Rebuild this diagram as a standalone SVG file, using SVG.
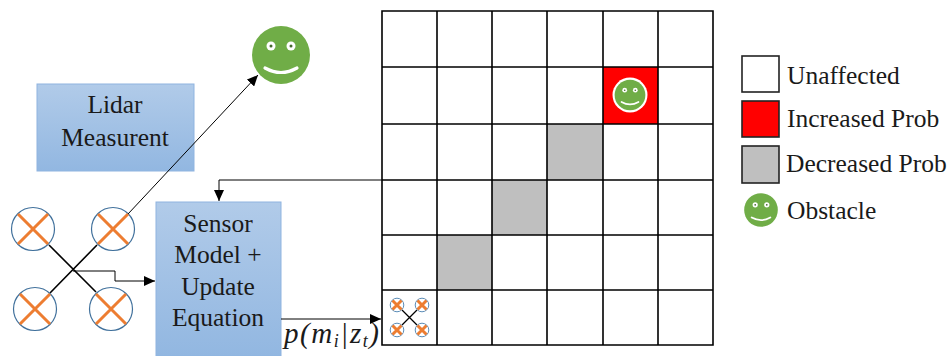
<svg xmlns="http://www.w3.org/2000/svg" xmlns:xlink="http://www.w3.org/1999/xlink" width="949" height="356" viewBox="0 0 949 356">
<style>
text{font-family:"Liberation Serif","Times New Roman",serif;fill:#1a1a1a;font-size:25.500px}
.c{text-anchor:middle}
.cell{fill:none;stroke:#000;stroke-width:1.6}
.box{fill:url(#blue);stroke:#8fb4e0;stroke-width:1}
.rotor{fill:#fff;stroke:#41719c;stroke-width:1.200}
.blade{stroke:#ed7d31;stroke-width:3}
.arm{stroke:#000;stroke-width:1.600}
.conn{fill:none;stroke:#000;stroke-width:1}
.leg{stroke:#222;stroke-width:1.600}
text.math{font-style:italic;font-size:29px}
.sub{font-size:18px}
</style>
<defs>
<linearGradient id="blue" x1="0" y1="0" x2="0" y2="1"><stop offset="0" stop-color="#b1cbe9"/><stop offset="1" stop-color="#92b7e1"/></linearGradient>
<marker id="arr" markerWidth="12" markerHeight="10" refX="11" refY="5" orient="auto" markerUnits="userSpaceOnUse"><path d="M0 0L11 5L0 10Z" fill="#000"/></marker>
<g id="smile"><circle r="29" fill="#70ad47"/><circle cx="-10" cy="-9" r="4.500" fill="#fff"/><circle cx="10" cy="-9" r="4.500" fill="#fff"/><circle cx="-10" cy="-9" r="1.500" fill="#44692d"/><circle cx="10" cy="-9" r="1.500" fill="#44692d"/><path d="M-16 13Q0 22 16 13" fill="none" stroke="#fff" stroke-width="3.200" stroke-linecap="round"/></g>
</defs>
<rect width="949" height="356" fill="#fff"/>
<g id="grid-node">
<rect x="437" y="235" width="55" height="55" fill="#bfbfbf"/>
<rect x="492" y="180" width="55" height="55" fill="#bfbfbf"/>
<rect x="547" y="124" width="56" height="56" fill="#bfbfbf"/>
<rect x="603" y="67" width="55" height="57" fill="#f00"/>
<path class="cell" d="M382 11H713V345H382ZM382 67H713M382 124H713M382 180H713M382 235H713M382 290H713M437 11V345M492 11V345M547 11V345M603 11V345M658 11V345"/>
</g>
<g id="obstacle-grid"><circle cx="630" cy="95" r="17.500" fill="#fff"/><use xlink:href="#smile" transform="translate(630 95) scale(.53)"/></g>
<g id="obstacle-top"><use xlink:href="#smile" transform="translate(281 55)"/></g>
<g id="lidar"><rect class="box" x="37" y="84" width="157" height="87"/><text class="c" x="115" y="113">Lidar</text><text class="c" x="115" y="146">Measurent</text></g>
<g id="sensor"><rect class="box" x="156" y="202" width="125" height="154"/><text class="c" x="218" y="232">Sensor</text><text class="c" x="218" y="263">Model +</text><text class="c" x="218" y="295">Update</text><text class="c" x="218" y="326">Equation</text></g>
<g id="drone-large">
<path class="arm" d="M49 245L96 292M97 245L50 293"/>
<circle class="rotor" cx="33" cy="229" r="21.500"/><path class="blade" d="M18 214L48 244M48 214L18 244"/>
<circle class="rotor" cx="113" cy="229" r="21.500"/><path class="blade" d="M98 214L128 244M128 214L98 244"/>
<circle class="rotor" cx="35" cy="309" r="21.500"/><path class="blade" d="M20 294L50 324M50 294L20 324"/>
<circle class="rotor" cx="111" cy="309" r="21.500"/><path class="blade" d="M96 294L126 324M126 294L96 324"/>
</g>
<g id="drone-small">
<path stroke="#000" stroke-width="1.300" d="M402 310L417 325M417 310L402 325"/>
<g stroke="#5b8db8" stroke-width="1" fill="#fff"><circle cx="397" cy="305" r="6.800"/><circle cx="422" cy="305" r="6.800"/><circle cx="397" cy="330" r="6.800"/><circle cx="422" cy="330" r="6.800"/></g>
<path stroke="#ed7d31" stroke-width="3" d="M392.500 300.500L401.500 309.500M401.500 300.500L392.500 309.500M417.500 300.500L426.500 309.500M426.500 300.500L417.500 309.500M392.500 325.500L401.500 334.500M401.500 325.500L392.500 334.500M417.500 325.500L426.500 334.500M426.500 325.500L417.500 334.500"/>
</g>
<g id="connectors">
<path class="conn" d="M128 214L258 75" marker-end="url(#arr)" stroke="#444"/>
<path class="conn" d="M73 271H115V281H155" marker-end="url(#arr)"/>
<path class="conn" d="M382 180H219V201" marker-end="url(#arr)"/>
<path class="conn" d="M281 319H381" marker-end="url(#arr)"/>
</g>
<text class="math" x="284" y="343" textLength="95" lengthAdjust="spacing">p(m<tspan class="sub" dy="4">i</tspan><tspan dy="-4">|z</tspan><tspan class="sub" dy="4">t</tspan><tspan dy="-4">)</tspan></text>
<g id="legend">
<g id="leg-un"><rect class="leg" x="742" y="56" width="37" height="36" fill="#fff"/><text x="787" y="84">Unaffected</text></g>
<g id="leg-inc"><rect class="leg" x="742" y="101" width="37" height="36" fill="#f00"/><text x="787" y="127">Increased Prob</text></g>
<g id="leg-dec"><rect class="leg" x="742" y="146" width="37" height="37" fill="#bfbfbf"/><text x="786" y="172">Decreased Prob</text></g>
<g id="leg-obs"><use xlink:href="#smile" transform="translate(761 210) scale(.58)"/><text x="787" y="219">Obstacle</text></g>
</g>
</svg>
